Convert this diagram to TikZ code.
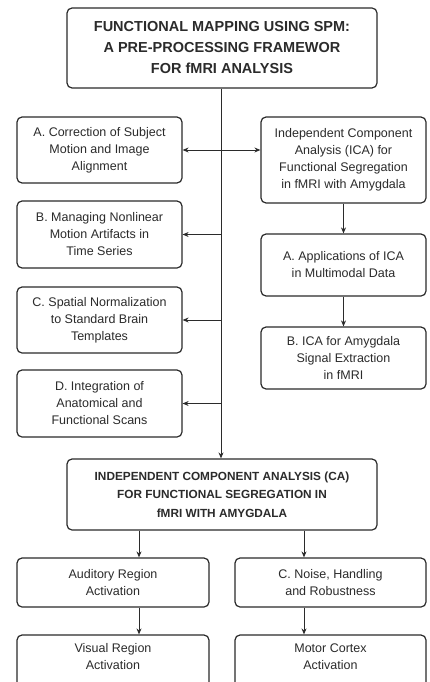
\documentclass[tikz,border=0pt]{standalone}
\usepackage{fontspec}
\setmainfont{Liberation Sans}
\usetikzlibrary{arrows.meta}
\definecolor{ink}{HTML}{2B2B2B}
\tikzset{
  box/.style={draw=ink, line width=1.2pt, rounded corners=5pt, align=center, text=ink, inner sep=2pt,
    font=\fontsize{12.5}{17}\selectfont},
  titlebox/.style={box, font=\fontsize{14.5}{21}\selectfont\bfseries},
  subtitlebox/.style={box, font=\fontsize{11.8}{18.5}\selectfont\bfseries},
  conn/.style={draw=ink, line width=1pt, -{Stealth[length=6pt,width=5pt]}},
  conn2/.style={draw=ink, line width=1pt, {Stealth[length=6pt,width=5pt]}-{Stealth[length=6pt,width=5pt]}},
}
\begin{document}
\begin{tikzpicture}[x=1pt,y=-1pt]
\useasboundingbox (0,0) rectangle (429,682);
\clip (0,0) rectangle (429,682);
\fill[white] (0,0) rectangle (429,682);
% boxes
\node[titlebox, minimum width=310pt, minimum height=80pt] (top) at (222,48)
  {FUNCTIONAL MAPPING USING SPM:\\A PRE-PROCESSING FRAMEWOR\\FOR fMRI ANALYSIS};
\node[box, minimum width=165pt, minimum height=66pt] (a) at (99.5,150)
  {A. Correction of Subject\\Motion and Image\\Alignment};
\node[box, minimum width=165pt, minimum height=86pt] (ica) at (343.5,160)
  {Independent Component\\Analysis (ICA) for\\Functional Segregation\\in fMRI with Amygdala};
\node[box, minimum width=165pt, minimum height=67pt] (b) at (99.5,234.5)
  {B. Managing Nonlinear\\Motion Artifacts in\\Time Series};
\node[box, minimum width=165pt, minimum height=62pt] (apps) at (343.5,265)
  {A. Applications of ICA\\in Multimodal Data};
\node[box, minimum width=165pt, minimum height=66pt] (c) at (99.5,320)
  {C. Spatial Normalization\\to Standard Brain\\Templates};
\node[box, minimum width=165pt, minimum height=62pt] (bica) at (343.5,358)
  {B. ICA for Amygdala\\Signal Extraction\\in fMRI};
\node[box, minimum width=165pt, minimum height=67pt] (d) at (99.5,403.5)
  {D. Integration of\\Anatomical and\\Functional Scans};
\node[subtitlebox, minimum width=310pt, minimum height=71pt] (ica2) at (222,494.5)
  {INDEPENDENT COMPONENT ANALYSIS (CA)\\FOR FUNCTIONAL SEGREGATION IN\\fMRI WITH AMYGDALA};
\node[box, minimum width=192pt, minimum height=49pt] (aud) at (113,582.5)
  {Auditory Region\\Activation};
\node[box, minimum width=191pt, minimum height=49pt] (noise) at (330.5,582.5)
  {C. Noise, Handling\\and Robustness};
\node[box, minimum width=192pt, minimum height=60pt] (vis) at (113,665)
  {Visual Region\\Activation\\[0pt]};
\node[box, minimum width=191pt, minimum height=60pt] (mot) at (330.5,665)
  {Motor Cortex\\Activation\\[0pt]};
% connectors
\coordinate (sp) at (221,0);
\coordinate (lx) at (139,0);
\coordinate (rx) at (304,0);
\draw[conn] (top.south -| sp) -- (ica2.north -| sp);
\draw[conn2] (a.east) -- (a.east -| ica.west);
\draw[conn] (b.east -| sp) -- (b.east);
\draw[conn] (c.east -| sp) -- (c.east);
\draw[conn] (d.east -| sp) -- (d.east);
\draw[conn] (ica.south) -- (apps.north);
\draw[conn] (apps.south) -- (bica.north);
\draw[conn] (ica2.south -| lx) -- (aud.north -| lx);
\draw[conn] (ica2.south -| rx) -- (noise.north -| rx);
\draw[conn] (aud.south -| lx) -- (vis.north -| lx);
\draw[conn] (noise.south -| rx) -- (mot.north -| rx);
\end{tikzpicture}
\end{document}
